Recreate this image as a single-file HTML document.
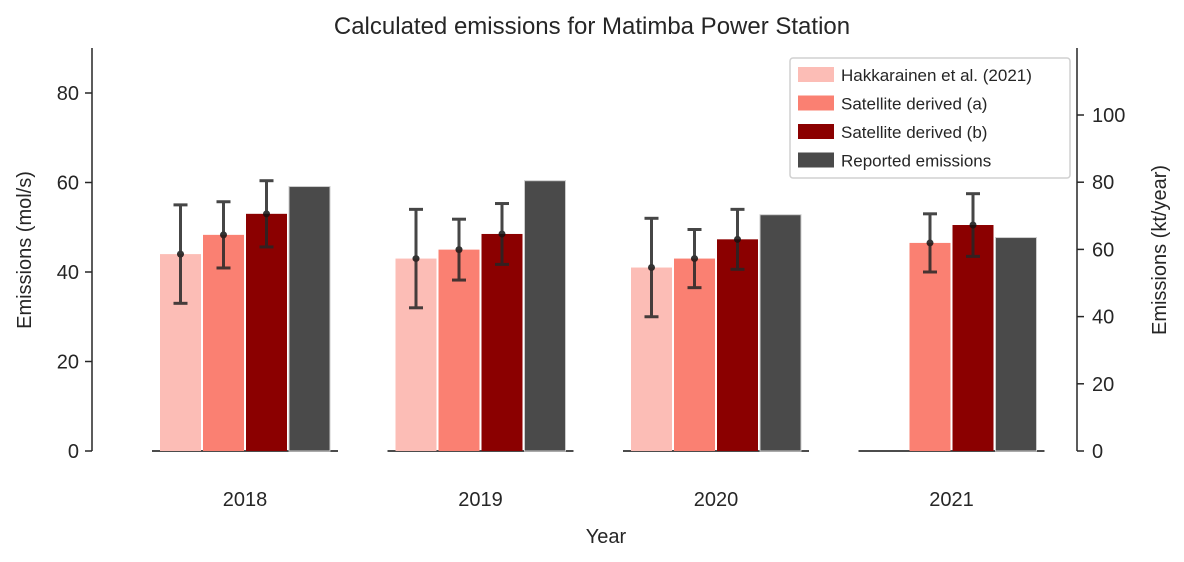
<!DOCTYPE html>
<html><head><meta charset="utf-8"><style>
body{margin:0;background:#fff;}
svg text{font-family:"Liberation Sans",Arial,sans-serif;fill:#262626;}
</style></head><body>
<svg id="chart" width="1184" height="557" viewBox="0 0 1184 557">
<text x="592" y="34" font-size="24" text-anchor="middle">Calculated emissions for Matimba Power Station</text>
<g id="axes"></g>
<g id="bars"></g>
<g id="errs"></g>
<g>
<rect x="790" y="58" width="280" height="120" rx="3" fill="#fff" stroke="#d0d0d0" stroke-width="1.5"/>
<g id="legend"></g>
</g>
<text x="606" y="543" font-size="20" text-anchor="middle">Year</text>
<text transform="translate(31,250) rotate(-90)" font-size="20" text-anchor="middle">Emissions (mol/s)</text>
<text transform="translate(1166,250) rotate(-90)" font-size="20" text-anchor="middle">Emissions (kt/year)</text>
</svg>
<script>
const years = ["2018","2019","2020","2021"];
const seriesNames = ["Hakkarainen et al. (2021)","Satellite derived (a)","Satellite derived (b)","Reported emissions"];
const seriesColors = ["#fcbdb6","#fa8072","#8b0000","#4a4a4a"];
const hakka = [44, 43, 41, null];
const hakkaErr = [11, 11, 11, null];
const satA = [48.3, 45, 43, 46.5];
const satAErr = [7.4, 6.8, 6.5, 6.5];
const satB = [53, 48.5, 47.3, 50.5];
const satBErr = [7.4, 6.8, 6.7, 7];
const reported = [59.1, 60.4, 52.8, 47.7];
const leftTicks = [0, 20, 40, 60, 80];
const rightTicks = [0, 20, 40, 60, 80, 100];

const NS = "http://www.w3.org/2000/svg";
function mk(tag, attrs, parent){const e=document.createElementNS(NS,tag);for(const k in attrs)e.setAttribute(k,attrs[k]);parent.appendChild(e);return e;}
const y0 = 451, pxPerMol = 4.475, pxPerKt = 3.36;
const yL = v => y0 - v*pxPerMol;
const yR = v => y0 - v*pxPerKt;
const xC = i => 245 + i*235.5;
const barW = 41, barStep = 43;

const axes = document.getElementById('axes');
let l = mk('line',{x1:92,y1:48,x2:92,y2:451,stroke:'#262626','stroke-width':1.5},axes);
 
l = mk('line',{x1:1077,y1:48,x2:1077,y2:451,stroke:'#262626','stroke-width':1.5},axes);
 
leftTicks.forEach(t=>{
  mk('line',{x1:85,x2:92,y1:yL(t),y2:yL(t),stroke:'#262626','stroke-width':1.5},axes);
  const tx = mk('text',{x:79,y:yL(t)+7,'font-size':20,'text-anchor':'end'},axes);
  tx.textContent=t;
   
});
rightTicks.forEach(t=>{
  mk('line',{x1:1077,x2:1084,y1:yR(t),y2:yR(t),stroke:'#262626','stroke-width':1.5},axes);
  const tx = mk('text',{x:1092,y:yR(t)+7,'font-size':20},axes);
  tx.textContent=t;
   
});
years.forEach((yr,i)=>{
  mk('line',{x1:xC(i)-93,x2:xC(i)+93,y1:451,y2:451,stroke:'#111','stroke-width':1.5},axes);
  const tx = mk('text',{x:xC(i),y:506,'font-size':20,'text-anchor':'middle'},axes);
  tx.textContent=yr;
   
});

const vals=[hakka,satA,satB,reported], errs=[hakkaErr,satAErr,satBErr,null];
const bars=document.getElementById('bars'), eg=document.getElementById('errs');
years.forEach((yr,i)=>{
  vals.forEach((arr,s)=>{
    const v=arr[i]; if(v==null) return;
    const x=xC(i)-2*barStep+1+s*barStep;
    const r=mk('rect',{x:x,y:yL(v),width:barW,height:y0-yL(v),fill:seriesColors[s],stroke:s==3?'#ccc':'none','stroke-width':1},bars);
     
    if(errs[s]){
      const e=errs[s][i], cx=x+barW/2;
      const g=mk('g',{stroke:'#262626','stroke-width':3,opacity:0.85},eg);
       
      mk('line',{x1:cx,x2:cx,y1:yL(v+e),y2:yL(v-e)},g);
      mk('line',{x1:cx-7,x2:cx+7,y1:yL(v+e),y2:yL(v+e)},g);
      mk('line',{x1:cx-7,x2:cx+7,y1:yL(v-e),y2:yL(v-e)},g);
      mk('circle',{cx:cx,cy:yL(v),r:3.5,fill:'#111',stroke:'none'},g);
    }
  });
});
const lg=document.getElementById('legend');
seriesNames.forEach((n,s)=>{
  const yy=74+s*28.5;
  const r=mk('rect',{x:798,y:yy-7,width:36,height:15,fill:seriesColors[s]},lg);
   
  const t=mk('text',{x:841,y:yy+7,'font-size':17},lg);
  t.textContent=n;
   
});
</script>
</body></html>
